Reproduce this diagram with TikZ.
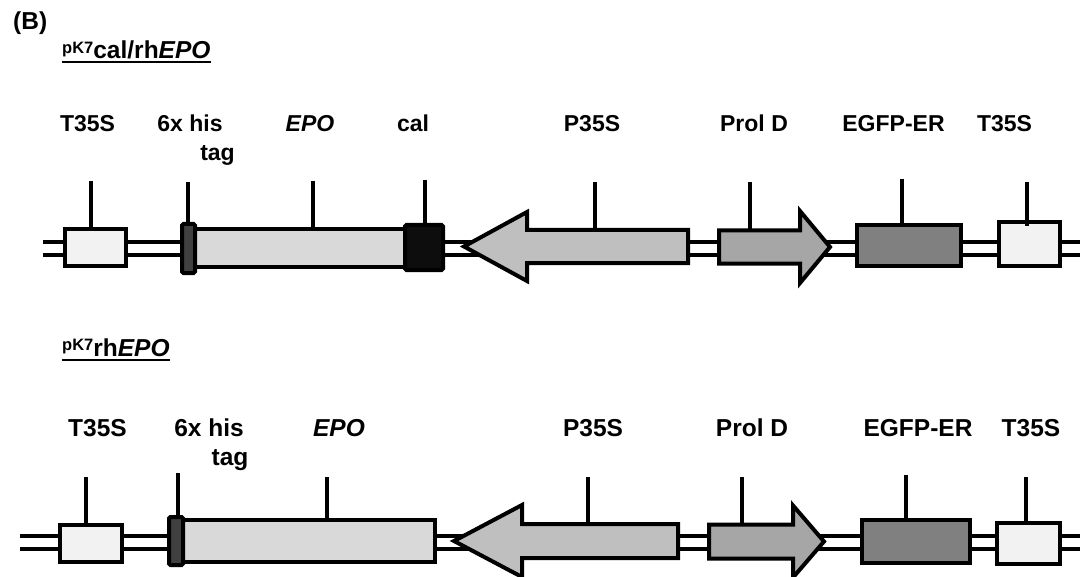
\documentclass[tikz,border=0pt]{standalone}
\usepackage{fontspec}
\setmainfont{Liberation Sans}
\definecolor{cTer}{HTML}{F2F2F2}
\definecolor{cHis}{HTML}{404040}
\definecolor{cEpo}{HTML}{D9D9D9}
\definecolor{cCal}{HTML}{0D0D0D}
\definecolor{cPro}{HTML}{BFBFBF}
\definecolor{cPrl}{HTML}{A6A6A6}
\definecolor{cGfp}{HTML}{808080}
\newcommand{\supK}{\raisebox{5.5pt}{\fontsize{16.5}{16.5}\selectfont pK7}}
\begin{document}
\begin{tikzpicture}[x=1pt,y=-1pt,
  part/.style={draw=black, line width=4pt, line join=miter},
  blk/.style={part, rectangle, inner sep=0pt, outer sep=0pt},
  ticker/.style={draw=black, line width=4pt},
  strand/.style={draw=black, line width=4pt, double=white, double distance=9pt},
  lblA/.style={font=\fontsize{23}{28}\selectfont\bfseries, inner sep=0pt, anchor=base},
  lblB/.style={font=\fontsize{24.5}{29}\selectfont\bfseries, inner sep=0pt, anchor=base},
  ttl/.style={font=\fontsize{24.5}{29}\selectfont\bfseries, inner sep=0pt, anchor=base west},
  uline/.style={draw=black, line width=2pt},
]
\useasboundingbox (0,0) rectangle (1091,577);

% panel letter and construct titles
\node[ttl] (panel) at (13,30) {(B)};
\node[ttl] (titleA) at (62,59) {\supK cal/rh\textit{EPO}};
\draw[uline] ([yshift=-3.5pt]titleA.base west) -- ([yshift=-3.5pt]titleA.base east);
\node[ttl] (titleB) at (62,356) {\supK rh\textit{EPO}};
\draw[uline] ([yshift=-3.5pt]titleB.base west) -- ([yshift=-3.5pt]titleB.base east);

% ---------------- construct 1: cal/rhEPO ----------------
\coordinate (sAl) at (43,248.5);
\coordinate (sAr) at (1080,248.5);
\draw[strand] (sAl) -- (sAr);

\node[blk, fill=cTer, minimum width=61pt, minimum height=37pt] (aT1) at (95.5,247.5) {};
\node[blk, fill=cEpo, minimum width=210pt, minimum height=38pt] (aEpo) at (300,248) {};
\node[blk, fill=cHis, rounded corners=1.5pt, minimum width=13pt, minimum height=49pt] (aHis) at (188.5,248.5) {};
\node[blk, fill=cCal, rounded corners=1.5pt, minimum width=38pt, minimum height=45pt] (aCal) at (424,247.5) {};
\draw[part, fill=cPro] (688,230) -- (527,230) -- (527,212) -- (464,246.5) -- (527,281) -- (527,263) -- (688,263) -- cycle;
\coordinate (aProTop) at (595,230);
\draw[part, fill=cPrl] (719,230.5) -- (800,230.5) -- (800,211) -- (830,247) -- (800,283) -- (800,263.5) -- (719,263.5) -- cycle;
\coordinate (aPrlTop) at (750,230.5);
\node[blk, fill=cGfp, minimum width=104pt, minimum height=41pt] (aGfp) at (909,245.5) {};
\node[blk, fill=cTer, minimum width=61pt, minimum height=44pt] (aT2) at (1029.5,244) {};

% marker lines
\coordinate (kA1) at (91,181);
\coordinate (kA2) at (188,182);
\coordinate (kA3) at (313,181);
\coordinate (kA4) at (425,180);
\coordinate (kA5) at (595,182);
\coordinate (kA6) at (750,182);
\coordinate (kA7) at (902,179);
\coordinate (kA8) at (1027,182);
\draw[ticker] (kA1) -- (kA1 |- aT1.north);
\draw[ticker] (kA2) -- (kA2 |- aHis.north);
\draw[ticker] (kA3) -- (kA3 |- aEpo.north);
\draw[ticker] (kA4) -- (kA4 |- aCal.north);
\draw[ticker] (kA5) -- (aProTop);
\draw[ticker] (kA6) -- (aPrlTop);
\draw[ticker] (kA7) -- (kA7 |- aGfp.north);
\draw[ticker] (kA8) -- ([yshift=-4pt]kA8 |- aT2.north);

% labels
\node[lblA] (lA1) at (87.5,131.5) {T35S};
\node[lblA] (lA2) at (190,131.5) {6x his};
\node[lblA] (lA2b) at (217.5,161) {tag};
\node[lblA] (lA3) at (310,131.5) {\textit{EPO}};
\node[lblA] (lA4) at (413,131.5) {cal};
\node[lblA] (lA5) at (592,131.5) {P35S};
\node[lblA] (lA6) at (754,131.5) {Prol D};
\node[lblA] (lA7) at (893.5,131.5) {EGFP-ER};
\node[lblA] (lA8) at (1004.5,131.5) {T35S};

% ---------------- construct 2: rhEPO ----------------
\coordinate (sBl) at (20,542.5);
\coordinate (sBr) at (1080,542.5);
\draw[strand] (sBl) -- (sBr);

\node[blk, fill=cTer, minimum width=62pt, minimum height=37pt] (bT1) at (91,543.5) {};
\node[blk, fill=cEpo, minimum width=252pt, minimum height=42pt] (bEpo) at (309,541) {};
\node[blk, fill=cHis, rounded corners=1.5pt, minimum width=14pt, minimum height=48pt] (bHis) at (176,541) {};
\draw[part, fill=cPro] (678,524) -- (522,524) -- (522,505) -- (454,541) -- (522,577) -- (522,558) -- (678,558) -- cycle;
\coordinate (bProTop) at (588,524);
\draw[part, fill=cPrl] (709,524.5) -- (793,524.5) -- (793,505.5) -- (824,541.5) -- (793,577.5) -- (793,558.5) -- (709,558.5) -- cycle;
\coordinate (bPrlTop) at (742,524.5);
\node[blk, fill=cGfp, minimum width=108pt, minimum height=43pt] (bGfp) at (916,541.5) {};
\node[blk, fill=cTer, minimum width=63pt, minimum height=41pt] (bT2) at (1028.5,543.5) {};

% marker lines
\coordinate (kB1) at (86,477);
\coordinate (kB2) at (178,473);
\coordinate (kB3) at (327,477);
\coordinate (kB5) at (588,477);
\coordinate (kB6) at (742,477);
\coordinate (kB7) at (906,475);
\coordinate (kB8) at (1026,477);
\draw[ticker] (kB1) -- (kB1 |- bT1.north);
\draw[ticker] (kB2) -- (kB2 |- bHis.north);
\draw[ticker] (kB3) -- (kB3 |- bEpo.north);
\draw[ticker] (kB5) -- (bProTop);
\draw[ticker] (kB6) -- (bPrlTop);
\draw[ticker] (kB7) -- (kB7 |- bGfp.north);
\draw[ticker] (kB8) -- (kB8 |- bT2.north);

% labels
\node[lblB] (lB1) at (97.5,436) {T35S};
\node[lblB] (lB2) at (209,436) {6x his};
\node[lblB] (lB2b) at (230,465) {tag};
\node[lblB] (lB3) at (339,436) {\textit{EPO}};
\node[lblB] (lB5) at (593,436) {P35S};
\node[lblB] (lB6) at (752,436) {Prol D};
\node[lblB] (lB7) at (918,436) {EGFP-ER};
\node[lblB] (lB8) at (1031,436) {T35S};
\end{tikzpicture}
\end{document}
